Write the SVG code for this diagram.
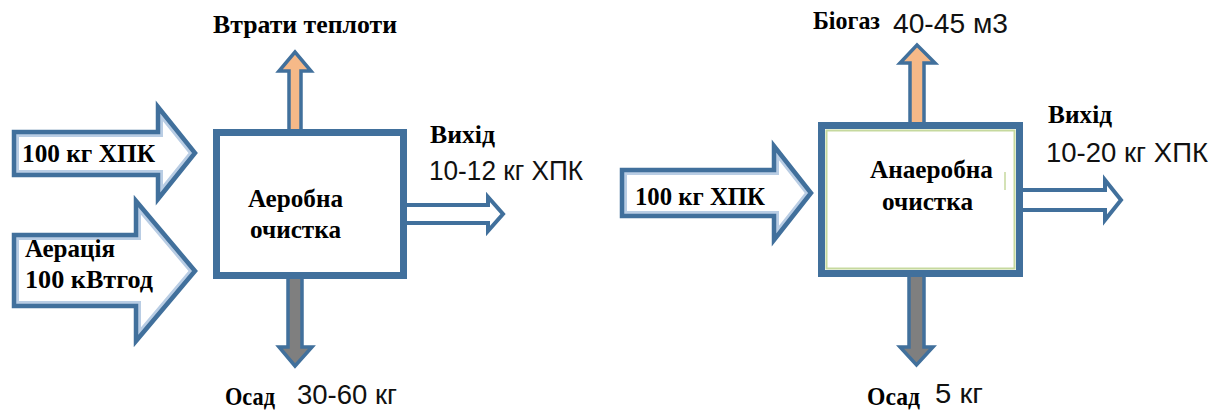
<svg xmlns="http://www.w3.org/2000/svg" xmlns:xlink="http://www.w3.org/1999/xlink" width="1224" height="415" viewBox="0 0 1224 415">
  <style>
    .sb { font-family: "Liberation Serif", "Times New Roman", serif; font-weight: bold; font-size: 25px; fill: #000; }
    .ss { font-family: "Liberation Sans", Arial, sans-serif; font-size: 27px; fill: #111; }
    .frame { fill: #fff; stroke: #41709c; stroke-width: 7; }
    .halo { fill: #fff; stroke: #b9cde4; stroke-width: 10; }
    .edge { fill: none; stroke: #41709c; stroke-width: 4.5; stroke-linejoin: miter; }
    .out { fill: #fff; stroke: #41709c; stroke-width: 4; stroke-linejoin: miter; }
    .heat { fill: #f6b988; stroke: #41709c; stroke-width: 3.5; stroke-linejoin: miter; }
    .sludge { fill: #7f7f7f; stroke: #41709c; stroke-width: 3.5; stroke-linejoin: miter; }
  </style>
  <defs>
    <!-- block-arrow outlines for the inflows -->
    <polygon id="inCod1" points="14,132 158,132 158,107 195,153 158,199 158,175 14,175"/>
    <polygon id="inAir" points="14,235 136,235 136,201 195,271 136,341 136,306 14,306"/>
    <polygon id="inCod2" points="622,170 774,170 774,146 811,193 774,240 774,216 622,216"/>
    <clipPath id="clipCod1"><use xlink:href="#inCod1"/></clipPath>
    <clipPath id="clipAir"><use xlink:href="#inAir"/></clipPath>
    <clipPath id="clipCod2"><use xlink:href="#inCod2"/></clipPath>
  </defs>

  <rect width="1224" height="415" fill="#fff"/>

  <!-- flows into and out of the reactors -->
  <g id="connectors">
    <!-- aerobic: heat loss up, outlet right, sludge down -->
    <path class="heat" d="M289,131 V71 H279 L295,52 L311,71 H301 V131 Z"/>
    <path class="out" d="M400,205 H488 V197 L503,214 L488,231 V223 H400 Z"/>
    <path class="sludge" d="M288,275 V347 H279 L295,366 L312,347 H302 V275 Z"/>
    <!-- anaerobic: biogas up, outlet right, sludge down -->
    <path class="heat" d="M910,124 V63 H900 L917,45 L935,63 H924 V124 Z"/>
    <path class="out" d="M1018,190 H1105 V180 L1121,200 L1105,220 V210 H1018 Z"/>
    <path class="sludge" d="M909,272 V347 H900 L916.5,365 L933,347 H924 V272 Z"/>
  </g>

  <g id="input-cod-aerobic">
    <use xlink:href="#inCod1" class="halo" clip-path="url(#clipCod1)"/>
    <use xlink:href="#inCod1" class="edge"/>
    <text class="sb" x="22" y="162" textLength="133" lengthAdjust="spacingAndGlyphs">100 кг ХПК</text>
  </g>

  <g id="input-aeration">
    <use xlink:href="#inAir" class="halo" clip-path="url(#clipAir)"/>
    <use xlink:href="#inAir" class="edge"/>
    <text class="sb" x="25" y="257" textLength="90" lengthAdjust="spacingAndGlyphs">Аерація</text>
    <text class="sb" x="25" y="288" textLength="128" lengthAdjust="spacingAndGlyphs">100 кВтгод</text>
  </g>

  <g id="aerobic">
    <rect class="frame" x="216.5" y="132.5" width="187" height="143"/>
    <text class="sb" x="248" y="207" textLength="95" lengthAdjust="spacingAndGlyphs">Аеробна</text>
    <text class="sb" x="250" y="238" textLength="91" lengthAdjust="spacingAndGlyphs">очистка</text>
  </g>

  <g id="aerobic-heat-label">
    <text class="sb" x="213" y="33" textLength="184" lengthAdjust="spacingAndGlyphs">Втрати теплоти</text>
  </g>

  <g id="aerobic-outlet-label">
    <text class="sb" x="430" y="143" textLength="65" lengthAdjust="spacingAndGlyphs">Вихід</text>
    <text class="ss" x="429" y="180" textLength="154" lengthAdjust="spacingAndGlyphs">10-12 кг ХПК</text>
  </g>

  <g id="aerobic-sludge-label">
    <text class="sb" x="225" y="405" textLength="50" lengthAdjust="spacingAndGlyphs">Осад</text>
    <text class="ss" x="297" y="404" textLength="100" lengthAdjust="spacingAndGlyphs">30-60 кг</text>
  </g>

  <g id="input-cod-anaerobic">
    <use xlink:href="#inCod2" class="halo" clip-path="url(#clipCod2)"/>
    <use xlink:href="#inCod2" class="edge"/>
    <text class="sb" x="635" y="205" textLength="130" lengthAdjust="spacingAndGlyphs">100 кг ХПК</text>
  </g>

  <g id="anaerobic">
    <rect class="frame" x="821.5" y="125.5" width="198" height="148"/>
    <rect x="826.5" y="130.5" width="188" height="138" fill="none" stroke="#c6d99e" stroke-width="2"/>
    <line x1="1005" y1="172" x2="1005" y2="190" stroke="#c6d99e" stroke-width="1.5"/>
    <text class="sb" x="870" y="178" textLength="123" lengthAdjust="spacingAndGlyphs">Анаеробна</text>
    <text class="sb" x="882" y="210" textLength="91" lengthAdjust="spacingAndGlyphs">очистка</text>
  </g>

  <g id="biogas-label">
    <text class="sb" x="813" y="29" textLength="67" lengthAdjust="spacingAndGlyphs">Біогаз</text>
    <text class="ss" x="893" y="33" textLength="115" lengthAdjust="spacingAndGlyphs">40-45 м3</text>
  </g>

  <g id="anaerobic-outlet-label">
    <text class="sb" x="1048" y="123" textLength="64" lengthAdjust="spacingAndGlyphs">Вихід</text>
    <text class="ss" x="1046" y="162" textLength="162" lengthAdjust="spacingAndGlyphs">10-20 кг ХПК</text>
  </g>

  <g id="anaerobic-sludge-label">
    <text class="sb" x="867" y="405" textLength="53" lengthAdjust="spacingAndGlyphs">Осад</text>
    <text class="ss" x="935" y="403" textLength="48" lengthAdjust="spacingAndGlyphs">5 кг</text>
  </g>
</svg>
